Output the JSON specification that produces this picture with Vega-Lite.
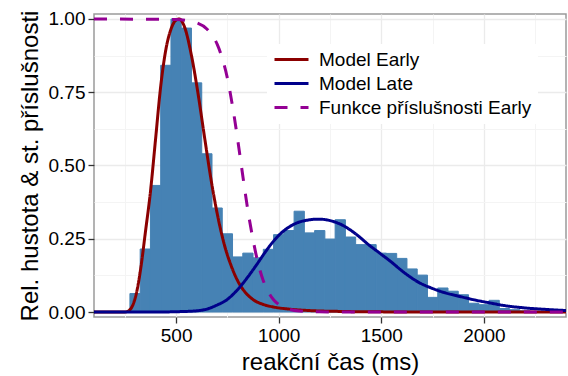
{
  "$schema": "https://vega.github.io/schema/vega-lite/v6.json",
  "width": 472,
  "height": 303,
  "autosize": {"type": "none"},
  "padding": {"left": 94, "top": 14, "right": 2, "bottom": 59},
  "background": "white",
  "config": {
    "view": {"stroke": "#9a9a9a", "strokeWidth": 1.5},
    "font": "Liberation Sans",
    "axis": {
      "labelFont": "Liberation Sans",
      "titleFont": "Liberation Sans",
      "labelColor": "black",
      "titleColor": "black",
      "titleFontWeight": "normal",
      "domain": false
    }
  },
  "datasets": {
    "hist": [
      {"start": 275, "end": 325, "density": 0.063},
      {"start": 325, "end": 375, "density": 0.215},
      {"start": 375, "end": 425, "density": 0.432},
      {"start": 425, "end": 475, "density": 0.842},
      {"start": 475, "end": 525, "density": 1.0},
      {"start": 525, "end": 575, "density": 0.969},
      {"start": 575, "end": 625, "density": 0.782},
      {"start": 625, "end": 675, "density": 0.54},
      {"start": 675, "end": 725, "density": 0.355},
      {"start": 725, "end": 775, "density": 0.267},
      {"start": 775, "end": 825, "density": 0.188},
      {"start": 825, "end": 875, "density": 0.201},
      {"start": 875, "end": 925, "density": 0.185},
      {"start": 925, "end": 975, "density": 0.214},
      {"start": 975, "end": 1025, "density": 0.264},
      {"start": 1025, "end": 1075, "density": 0.278},
      {"start": 1075, "end": 1125, "density": 0.344},
      {"start": 1125, "end": 1175, "density": 0.27},
      {"start": 1175, "end": 1225, "density": 0.278},
      {"start": 1225, "end": 1275, "density": 0.249},
      {"start": 1275, "end": 1325, "density": 0.315},
      {"start": 1325, "end": 1375, "density": 0.256},
      {"start": 1375, "end": 1425, "density": 0.23},
      {"start": 1425, "end": 1475, "density": 0.23},
      {"start": 1475, "end": 1525, "density": 0.201},
      {"start": 1525, "end": 1575, "density": 0.2},
      {"start": 1575, "end": 1625, "density": 0.183},
      {"start": 1625, "end": 1675, "density": 0.147},
      {"start": 1675, "end": 1725, "density": 0.126},
      {"start": 1725, "end": 1775, "density": 0.05},
      {"start": 1775, "end": 1825, "density": 0.082},
      {"start": 1825, "end": 1875, "density": 0.071},
      {"start": 1875, "end": 1925, "density": 0.059},
      {"start": 1925, "end": 1975, "density": 0.03},
      {"start": 1975, "end": 2025, "density": 0.025},
      {"start": 2025, "end": 2075, "density": 0.04},
      {"start": 2075, "end": 2125, "density": 0.012},
      {"start": 2125, "end": 2175, "density": 0.008},
      {"start": 2175, "end": 2225, "density": 0.004}
    ],
    "curves": [
      {"x": 100, "y": 0, "series": "Model Early"},
      {"x": 250, "y": 0, "series": "Model Early"},
      {"x": 270, "y": 0.005, "series": "Model Early"},
      {"x": 290, "y": 0.025, "series": "Model Early"},
      {"x": 310, "y": 0.075, "series": "Model Early"},
      {"x": 330, "y": 0.16, "series": "Model Early"},
      {"x": 350, "y": 0.27, "series": "Model Early"},
      {"x": 375, "y": 0.41, "series": "Model Early"},
      {"x": 400, "y": 0.59, "series": "Model Early"},
      {"x": 425, "y": 0.77, "series": "Model Early"},
      {"x": 450, "y": 0.895, "series": "Model Early"},
      {"x": 475, "y": 0.965, "series": "Model Early"},
      {"x": 495, "y": 0.993, "series": "Model Early"},
      {"x": 515, "y": 1.0, "series": "Model Early"},
      {"x": 540, "y": 0.975, "series": "Model Early"},
      {"x": 575, "y": 0.875, "series": "Model Early"},
      {"x": 607, "y": 0.745, "series": "Model Early"},
      {"x": 640, "y": 0.59, "series": "Model Early"},
      {"x": 672, "y": 0.445, "series": "Model Early"},
      {"x": 705, "y": 0.32, "series": "Model Early"},
      {"x": 737, "y": 0.225, "series": "Model Early"},
      {"x": 770, "y": 0.155, "series": "Model Early"},
      {"x": 805, "y": 0.1, "series": "Model Early"},
      {"x": 840, "y": 0.065, "series": "Model Early"},
      {"x": 880, "y": 0.04, "series": "Model Early"},
      {"x": 920, "y": 0.027, "series": "Model Early"},
      {"x": 975, "y": 0.017, "series": "Model Early"},
      {"x": 1050, "y": 0.01, "series": "Model Early"},
      {"x": 1150, "y": 0.005, "series": "Model Early"},
      {"x": 1300, "y": 0.002, "series": "Model Early"},
      {"x": 1500, "y": 0.0005, "series": "Model Early"},
      {"x": 2400, "y": 0, "series": "Model Early"},
      {"x": 100, "y": 0, "series": "Model Late"},
      {"x": 400, "y": 0, "series": "Model Late"},
      {"x": 500, "y": 0.001, "series": "Model Late"},
      {"x": 600, "y": 0.004, "series": "Model Late"},
      {"x": 650, "y": 0.01, "series": "Model Late"},
      {"x": 700, "y": 0.024, "series": "Model Late"},
      {"x": 750, "y": 0.043, "series": "Model Late"},
      {"x": 780, "y": 0.062, "series": "Model Late"},
      {"x": 820, "y": 0.093, "series": "Model Late"},
      {"x": 850, "y": 0.12, "series": "Model Late"},
      {"x": 893, "y": 0.162, "series": "Model Late"},
      {"x": 930, "y": 0.2, "series": "Model Late"},
      {"x": 974, "y": 0.241, "series": "Model Late"},
      {"x": 1010, "y": 0.268, "series": "Model Late"},
      {"x": 1055, "y": 0.292, "series": "Model Late"},
      {"x": 1100, "y": 0.307, "series": "Model Late"},
      {"x": 1136, "y": 0.313, "series": "Model Late"},
      {"x": 1193, "y": 0.317, "series": "Model Late"},
      {"x": 1230, "y": 0.315, "series": "Model Late"},
      {"x": 1266, "y": 0.309, "series": "Model Late"},
      {"x": 1300, "y": 0.3, "series": "Model Late"},
      {"x": 1347, "y": 0.281, "series": "Model Late"},
      {"x": 1396, "y": 0.255, "series": "Model Late"},
      {"x": 1429, "y": 0.235, "series": "Model Late"},
      {"x": 1494, "y": 0.2, "series": "Model Late"},
      {"x": 1550, "y": 0.17, "series": "Model Late"},
      {"x": 1591, "y": 0.146, "series": "Model Late"},
      {"x": 1640, "y": 0.12, "series": "Model Late"},
      {"x": 1688, "y": 0.099, "series": "Model Late"},
      {"x": 1740, "y": 0.083, "series": "Model Late"},
      {"x": 1786, "y": 0.071, "series": "Model Late"},
      {"x": 1883, "y": 0.053, "series": "Model Late"},
      {"x": 1950, "y": 0.042, "series": "Model Late"},
      {"x": 2029, "y": 0.031, "series": "Model Late"},
      {"x": 2100, "y": 0.022, "series": "Model Late"},
      {"x": 2200, "y": 0.014, "series": "Model Late"},
      {"x": 2300, "y": 0.009, "series": "Model Late"},
      {"x": 2400, "y": 0.005, "series": "Model Late"},
      {"x": 100, "y": 1.0, "series": "Funkce příslušnosti Early"},
      {"x": 500, "y": 0.998, "series": "Funkce příslušnosti Early"},
      {"x": 550, "y": 0.995, "series": "Funkce příslušnosti Early"},
      {"x": 600, "y": 0.987, "series": "Funkce příslušnosti Early"},
      {"x": 650, "y": 0.966, "series": "Funkce příslušnosti Early"},
      {"x": 700, "y": 0.914, "series": "Funkce příslušnosti Early"},
      {"x": 725, "y": 0.866, "series": "Funkce příslušnosti Early"},
      {"x": 750, "y": 0.798, "series": "Funkce příslušnosti Early"},
      {"x": 775, "y": 0.703, "series": "Funkce příslušnosti Early"},
      {"x": 800, "y": 0.589, "series": "Funkce příslušnosti Early"},
      {"x": 825, "y": 0.465, "series": "Funkce příslušnosti Early"},
      {"x": 850, "y": 0.346, "series": "Funkce příslušnosti Early"},
      {"x": 875, "y": 0.247, "series": "Funkce příslušnosti Early"},
      {"x": 900, "y": 0.165, "series": "Funkce příslušnosti Early"},
      {"x": 925, "y": 0.107, "series": "Funkce příslušnosti Early"},
      {"x": 950, "y": 0.068, "series": "Funkce příslušnosti Early"},
      {"x": 975, "y": 0.042, "series": "Funkce příslušnosti Early"},
      {"x": 1000, "y": 0.026, "series": "Funkce příslušnosti Early"},
      {"x": 1050, "y": 0.0096, "series": "Funkce příslušnosti Early"},
      {"x": 1100, "y": 0.0035, "series": "Funkce příslušnosti Early"},
      {"x": 1200, "y": 0.0005, "series": "Funkce příslušnosti Early"},
      {"x": 1400, "y": 0, "series": "Funkce příslušnosti Early"},
      {"x": 2400, "y": 0, "series": "Funkce příslušnosti Early"}
    ]
  },
  "resolve": {"axis": {"x": "independent", "y": "independent"}},
  "layer": [
    {
      "data": {"name": "hist"},
      "mark": {"type": "bar", "color": "#4682B4", "stroke": "#4682B4", "strokeWidth": 1, "clip": true},
      "encoding": {
        "x": {
          "field": "start", "type": "quantitative",
          "scale": {"domain": [100, 2400], "nice": false, "zero": false},
          "axis": {"orient": "bottom", "values": [250, 750, 1250, 1750, 2250], "grid": true, "gridColor": "#F4F4F4", "gridWidth": 1, "labels": false, "ticks": false, "domain": false, "title": null}
        },
        "x2": {"field": "end"},
        "y": {
          "field": "density", "type": "quantitative",
          "scale": {"domain": [-0.017, 1.017], "nice": false, "zero": false},
          "axis": {"orient": "left", "values": [0.125, 0.375, 0.625, 0.875], "grid": true, "gridColor": "#F4F4F4", "gridWidth": 1, "labels": false, "ticks": false, "domain": false, "title": null}
        },
        "y2": {"datum": 0}
      }
    },
    {
      "data": {"name": "curves"},
      "mark": {"type": "line", "strokeWidth": 3, "interpolate": "monotone", "clip": true},
      "encoding": {
        "x": {
          "field": "x", "type": "quantitative",
          "axis": {"orient": "bottom", "values": [500, 1000, 1500, 2000], "format": "d", "grid": true, "gridColor": "#EBEBEB", "gridWidth": 1.3, "ticks": true, "tickSize": 6, "tickColor": "#333333", "tickWidth": 1.3, "labelFontSize": 19, "labelPadding": 3, "title": "reakční čas (ms)", "titleFontSize": 24, "titlePadding": 5}
        },
        "y": {
          "field": "y", "type": "quantitative",
          "axis": {"orient": "left", "values": [0, 0.25, 0.5, 0.75, 1], "format": ".2f", "grid": true, "gridColor": "#EBEBEB", "gridWidth": 1.3, "ticks": true, "tickSize": 6, "tickColor": "#333333", "tickWidth": 1.3, "labelFontSize": 19, "labelPadding": 3, "title": "Rel. hustota & st. příslušnosti", "titleFontSize": 24, "titlePadding": 6}
        },
        "stroke": {
          "field": "series", "type": "nominal",
          "scale": {"domain": ["Model Early", "Model Late", "Funkce příslušnosti Early"], "range": ["#8B0000", "#00008B", "#940094"]},
          "legend": {"orient": "none", "legendX": 173, "legendY": 30, "title": null, "symbolType": "stroke", "symbolSize": 1156, "symbolStrokeWidth": 3, "labelFontSize": 19, "labelFont": "Liberation Sans", "labelColor": "black", "labelOffset": 9, "rowPadding": 4, "clipHeight": 19, "fillColor": "white", "padding": 6, "labelLimit": 400}
        },
        "strokeDash": {
          "field": "series", "type": "nominal",
          "scale": {"domain": ["Model Early", "Model Late", "Funkce příslušnosti Early"], "range": [[1, 0], [1, 0], [13, 13]]},
          "legend": {"orient": "none", "legendX": 173, "legendY": 30, "title": null, "symbolType": "stroke", "symbolSize": 1156, "symbolStrokeWidth": 3, "labelFontSize": 19, "labelFont": "Liberation Sans", "labelColor": "black", "labelOffset": 9, "rowPadding": 4, "clipHeight": 19, "fillColor": "white", "padding": 6, "labelLimit": 400}
        }
      }
    }
  ]
}
